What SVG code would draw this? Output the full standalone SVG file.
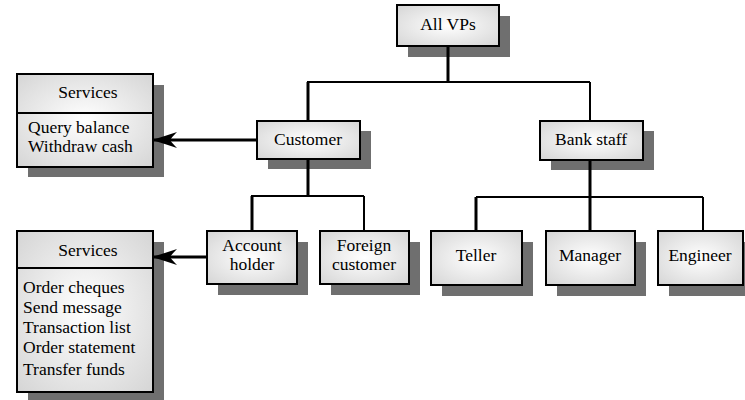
<svg xmlns="http://www.w3.org/2000/svg" width="745" height="400" viewBox="0 0 745 400">
<style>
.box{fill:url(#g);stroke:#000;stroke-width:2}
.sh{fill:#6f6f6f}
.t{font-size:17.5px;fill:#000}
.c{text-anchor:middle}
.thick{stroke:#000;stroke-width:3;fill:none}
.thin{stroke:#000;stroke-width:2;fill:none}
</style>
<defs>
<radialGradient id="g" cx="0.5" cy="0.5" r="0.75">
<stop offset="0" stop-color="#ffffff"/>
<stop offset="1" stop-color="#d2d2d2"/>
</radialGradient>
<marker id="arr" markerUnits="userSpaceOnUse" markerWidth="26" markerHeight="18" refX="25" refY="8" orient="auto" viewBox="0 0 26 16">
<path d="M25,8 Q12,4 0,0 Q5,5 7,8 Q5,11 0,16 Q12,12 25,8 Z" fill="#000"/>
</marker>
</defs>
<g id="allvps">
<rect class="sh" x="408" y="16" width="102" height="41"/>
<rect class="box" x="397" y="5" width="102" height="41"/>
</g>
<g id="customer">
<rect class="sh" x="268" y="131" width="103" height="38"/>
<rect class="box" x="257" y="121" width="103" height="38"/>
</g>
<g id="bankstaff">
<rect class="sh" x="551" y="131" width="103" height="39"/>
<rect class="box" x="540" y="121" width="103" height="39"/>
</g>
<g id="services1">
<rect class="sh" x="28" y="85" width="136" height="92"/>
<rect class="box" x="17" y="74" width="136" height="93"/>
<line x1="17" y1="113" x2="153" y2="113" stroke="#000" stroke-width="2"/>
</g>
<g id="services2">
<rect class="sh" x="28" y="242" width="136" height="161"/>
<rect class="box" x="17" y="231" width="136" height="161"/>
<line x1="17" y1="268" x2="153" y2="268" stroke="#000" stroke-width="2"/>
</g>
<g id="accountholder">
<rect class="sh" x="218" y="242" width="90" height="53"/>
<rect class="box" x="207" y="231" width="90" height="53"/>
</g>
<g id="foreigncustomer">
<rect class="sh" x="331" y="242" width="89" height="53"/>
<rect class="box" x="320" y="231" width="89" height="53"/>
</g>
<g id="teller">
<rect class="sh" x="442" y="242" width="91" height="54"/>
<rect class="box" x="431" y="231" width="91" height="54"/>
</g>
<g id="manager">
<rect class="sh" x="557" y="242" width="89" height="54"/>
<rect class="box" x="546" y="231" width="89" height="54"/>
</g>
<g id="engineer">
<rect class="sh" x="669" y="242" width="85" height="54"/>
<rect class="box" x="658" y="231" width="85" height="54"/>
</g>
<g id="connectors">
<line class="thick" x1="448" y1="47" x2="448" y2="82"/>
<line class="thin" x1="307" y1="82" x2="590" y2="82"/>
<line class="thick" x1="308" y1="82" x2="308" y2="120"/>
<line class="thin" x1="590" y1="82" x2="590" y2="120"/>
<line class="thick" x1="308" y1="160" x2="308" y2="196"/>
<line class="thin" x1="251" y1="196" x2="364" y2="196"/>
<line class="thick" x1="252" y1="196" x2="252" y2="230"/>
<line class="thin" x1="364" y1="196" x2="364" y2="230"/>
<line class="thick" x1="590" y1="161" x2="590" y2="230"/>
<line class="thin" x1="476" y1="197" x2="703" y2="197"/>
<line class="thick" x1="476" y1="197" x2="476" y2="230"/>
<line class="thin" x1="703" y1="197" x2="703" y2="230"/>
<line class="thick" x1="256" y1="140" x2="152" y2="140" marker-end="url(#arr)"/>
<line class="thick" x1="206" y1="257" x2="152" y2="257" marker-end="url(#arr)"/>
</g>
<g id="labels" font-family="Liberation Serif, Times New Roman, serif" class="t">
<text class="c" x="448" y="30">All VPs</text>
<text class="c" x="308" y="145">Customer</text>
<text class="c" x="591" y="145">Bank staff</text>
<text class="c" x="88" y="98">Services</text>
<text x="28" y="133">Query balance</text>
<text x="28" y="152">Withdraw cash</text>
<text class="c" x="88" y="256">Services</text>
<text x="23" y="293">Order cheques</text>
<text x="23" y="313">Send message</text>
<text x="23" y="333">Transaction list</text>
<text x="23" y="353">Order statement</text>
<text x="23" y="375">Transfer funds</text>
<text class="c" x="252" y="251">Account</text>
<text class="c" x="252" y="270">holder</text>
<text class="c" x="364" y="251">Foreign</text>
<text class="c" x="364" y="270">customer</text>
<text class="c" x="476" y="261">Teller</text>
<text class="c" x="590" y="261">Manager</text>
<text class="c" x="700" y="261">Engineer</text>
</g>
</svg>
